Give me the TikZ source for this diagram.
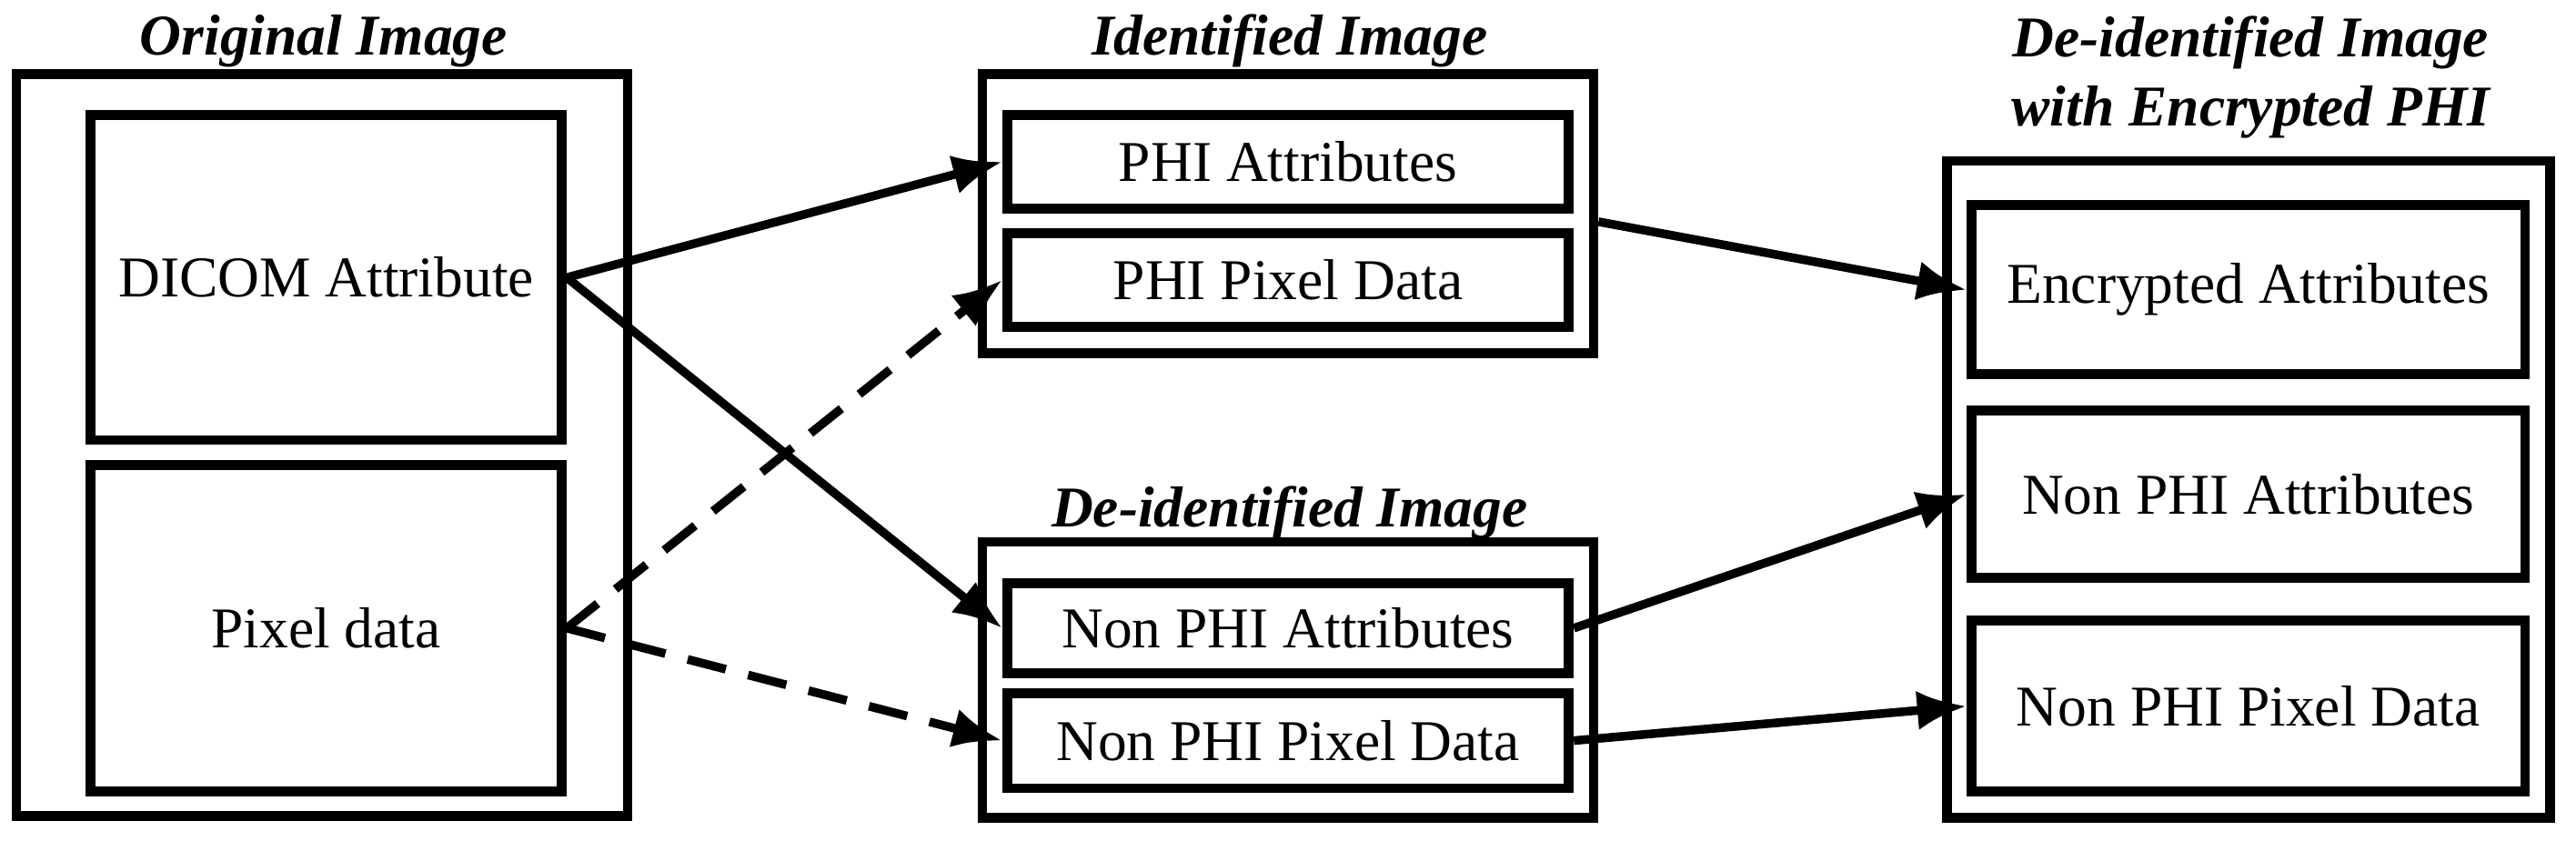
\documentclass[tikz,border=0pt]{standalone}
\usepackage{fontspec}
\setmainfont{Liberation Serif}
\usetikzlibrary{positioning,arrows.meta}

\begin{document}
\begin{tikzpicture}[x=0.1mm,y=-0.1mm,
    outer/.style={draw,line width=1.7pt,inner sep=0pt},
    inner/.style={draw,line width=1.7pt,inner sep=0pt,font=\fontsize{10}{12}\selectfont},
    title/.style={font=\fontsize{10}{12}\selectfont\bfseries\itshape,align=center},
    arr/.style={line width=1.5pt,-{Latex[length=3mm,width=2.4mm]}},
    dasharr/.style={arr,dash pattern=on 2.4mm off 1.4mm}]
\useasboundingbox (0,0) rectangle (1568,512);
% original image
\node[outer,minimum width=37.2mm,minimum height=45.2mm] (orig) at (196,271) {};
\node[inner,minimum width=28.7mm,minimum height=19.8mm] (dicom) at (198.5,169) {DICOM Attribute};
\node[inner,minimum width=28.7mm,minimum height=19.9mm] (pix) at (198.5,382.5) {Pixel data};
\node[title] at (197,25) {Original Image};
% identified image
\node[outer,minimum width=37.2mm,minimum height=17mm] (ident) at (784,130) {};
\node[inner,minimum width=34.2mm,minimum height=5.7mm] (phiattr) at (784,98.5) {PHI Attributes};
\node[inner,minimum width=34.2mm,minimum height=5.7mm] (phipix) at (784,170.5) {PHI Pixel Data};
\node[title] at (785,25) {Identified Image};
% de-identified image
\node[outer,minimum width=37.2mm,minimum height=16.8mm] (deid) at (784,414) {};
\node[inner,minimum width=34.2mm,minimum height=5.5mm] (nattr) at (784,382.5) {Non PHI Attributes};
\node[inner,minimum width=34.2mm,minimum height=5.8mm] (npix) at (784,451) {Non PHI Pixel Data};
\node[title] at (785,312) {De-identified Image};
% encrypted
\node[outer,minimum width=36.7mm,minimum height=40mm] (enc) at (1368.5,298) {};
\node[inner,minimum width=33.7mm,minimum height=10.3mm] (encattr) at (1368.5,176.5) {Encrypted Attributes};
\node[inner,minimum width=33.7mm,minimum height=10.2mm] (eattr) at (1368.5,301) {Non PHI Attributes};
\node[inner,minimum width=33.7mm,minimum height=10.4mm] (epix) at (1368.5,430) {Non PHI Pixel Data};
\node[title] at (1370,47) {De-identified Image\\with Encrypted PHI};
% connectors
\draw[arr] (dicom.east) -- (phiattr.west);
\draw[arr] (dicom.east) -- (nattr.west);
\draw[dasharr] (pix.east) -- (phipix.west);
\draw[dasharr] (pix.east) -- (npix.west);
\draw[arr] (ident.east |- 0,135) -- (encattr.west);
\draw[arr] (nattr.east) -- (eattr.west);
\draw[arr] (npix.east) -- (epix.west);
\end{tikzpicture}
\end{document}
